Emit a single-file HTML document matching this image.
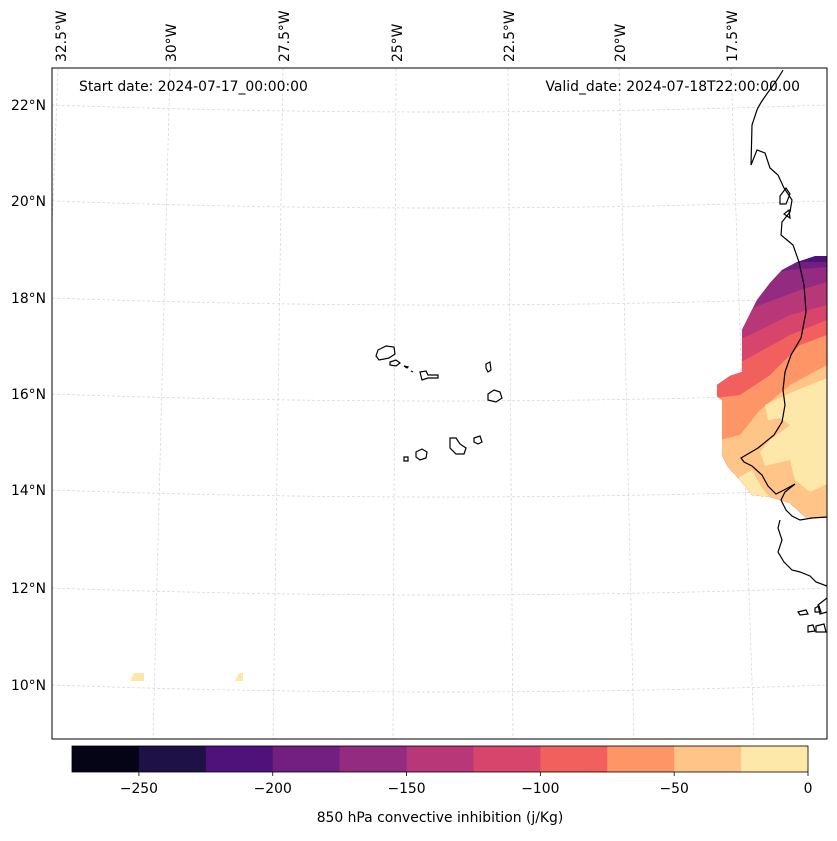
<!DOCTYPE html>
<html><head><meta charset="utf-8"><style>
body{margin:0;background:#fff;font-family:"Liberation Sans","DejaVu Sans",sans-serif}
svg text{font-family:"DejaVu Sans","Liberation Sans",sans-serif;fill:#000}
</style></head><body>
<svg id="chart" width="837" height="836" viewBox="0 0 837 836" xmlns="http://www.w3.org/2000/svg">
<defs><clipPath id="mapclip"><rect x="52" y="68" width="775" height="671"/></clipPath>
<clipPath id="fieldclip"><polygon points="827,256 815,256 797,262 782,270 770,283 757,300 742,330 742,372 730,376 717,385 717,396 722,400 722,455 728,467 740,480 752,495 770,497 790,503 805,517 827,518"/></clipPath></defs>
<rect x="52" y="68" width="775" height="671" fill="#fff"/>
<g id="grid" clip-path="url(#mapclip)"></g>
<g id="field" clip-path="url(#mapclip)"></g>
<g id="coast" clip-path="url(#mapclip)" fill="none" stroke="#000" stroke-width="1.2">
<path d="M783,70 C775,85 762,98 757,110 L752,125 751,165 757,150 765,153 770,168 778,175 784,188 792,200 790,212 782,222 781,235 793,245 799,262 804,285 806,312 801,338 791,355 785,372 783,390 785,405 782,422 774,435 758,448 741,458 744,462 752,466 762,475 768,486 776,494 784,490 795,484 785,492 781,500 786,510 792,516 800,520 812,518 827,517"/>
<path d="M780,520 L778,528 782,540 778,552 784,562 792,570 800,572 810,576 816,582 827,586"/>
<path d="M827,598 L818,605 820,614 827,612"/>
<path d="M798,612 l8,-2 2,4 -8,1z M815,608 l4,-2 2,6 -6,0z M808,626 l5,-1 2,6 -7,1z M816,626 l8,-2 2,8 -10,0z"/>
<path d="M780,196 l6,-8 4,6 -4,10 -6,0z M784,214 l5,-4 1,8z"/>
</g>
<g id="islands" fill="none" stroke="#000" stroke-width="1.2">
<path d="M378,350 l8,-4 8,1 1,7 -6,4 -10,2 -3,-4z"/>
<path d="M390,362 l6,-2 4,3 -4,3 -6,-1z"/>
<path d="M404,366 l4,1 -1,1z M411,371 l2,1"/>
<path d="M420,372 l6,-1 2,4 10,0 0,3 -10,0 -6,2z"/>
<path d="M486,364 l4,-2 1,8 -3,2 -2,-4z"/>
<path d="M488,394 l6,-4 6,2 2,6 -6,4 -8,-2z"/>
<path d="M450,438 l6,0 4,6 6,4 -2,6 -8,0 -6,-6z"/>
<path d="M474,438 l6,-2 2,6 -4,2 -4,-2z"/>
<path d="M416,452 l6,-3 5,3 -1,6 -6,2 -4,-3z"/>
<path d="M404,457 l4,0 0,4 -4,0z"/>
</g>
<rect x="52" y="68" width="775" height="671" fill="none" stroke="#000" stroke-width="1"/>
<g id="labels"></g>
<text x="79" y="91" font-size="13.9">Start date: 2024-07-17_00:00:00</text>
<text x="800" y="91" font-size="13.9" text-anchor="end">Valid_date: 2024-07-18T22:00:00.00</text>
<g id="cbar"></g>
<text x="440" y="822" font-size="13.9" text-anchor="middle">850 hPa convective inhibition (j/Kg)</text>
</svg>
<script>
const lonLabels=["32.5°W","30°W","27.5°W","25°W","22.5°W","20°W","17.5°W"];
const lonTopX=[58,170,283,396,508,619,731];
const lonBotX=[33,153,273,393,513,634,754];
const latLabels=["22°N","20°N","18°N","16°N","14°N","12°N","10°N"];
const latY=[105,201,298,394,490,588,685];
const cbLevels=[-275,-250,-225,-200,-175,-150,-125,-100,-75,-50,-25,0];
const cbColors=["#050416","#1d1147","#4f127b","#721f81","#932b80","#b73779","#d8456c","#f1605d","#fd9567","#fec488","#fde8aa"];
const cbTicks=[-250,-200,-150,-100,-50,0];
const NS="http://www.w3.org/2000/svg";
function mk(t,a,p){const e=document.createElementNS(NS,t);for(const k in a)e.setAttribute(k,a[k]);p.appendChild(e);return e;}
const grid=document.getElementById('grid'),labels=document.getElementById('labels');
lonLabels.forEach((l,i)=>{
 const ln=mk('line',{x1:lonTopX[i],y1:68,x2:lonBotX[i],y2:739,stroke:'#d4d4d4','stroke-width':0.7,'stroke-dasharray':'3,2'},grid);
 
 
 const cx=(i==0?62:lonTopX[i]+2);
 const t=mk('text',{x:0,y:0,'font-size':13.9,transform:`translate(${cx+4},62) rotate(-90)`},labels);
 t.textContent=l;
 
 
});
latLabels.forEach((l,i)=>{
 const y=latY[i];
 const p=mk('path',{d:`M52,${y} Q440,${y+14} 827,${y}`,fill:'none',stroke:'#d4d4d4','stroke-width':0.7,'stroke-dasharray':'3,2'},grid);
 
 
 const t=mk('text',{x:46,y:y+5,'font-size':13.9,'text-anchor':'end'},labels);
 t.textContent=l;
 
 
});
const field=document.getElementById('field');
const fg=mk('g',{'clip-path':'url(#fieldclip)'},field);
const bandIdx=[2,3,4,5,6,7,8,9];
const bandTops=[
 "700,200 827,200",
 "700,275 800,262 827,262",
 "700,285 790,270 827,267",
 "700,330 760,305 800,290 827,282",
 "700,355 750,335 790,315 827,305",
 "700,385 745,360 790,335 827,320",
 "700,400 740,395 770,375 800,345 827,335",
 "700,445 740,435 760,410 790,385 827,365"];
bandTops.forEach((pts,i)=>{
 const p=mk('polygon',{points:pts+" 827,560 700,560",fill:cbColors[bandIdx[i]]},fg);
 
 
});
const y1=mk('polygon',{points:"827,378 790,393 765,405 768,420 780,418 790,425 770,440 760,452 765,466 790,460 795,480 810,492 827,484",fill:cbColors[10]},fg);


const y2=mk('polygon',{points:"738,478 752,470 762,488 770,498 752,496",fill:cbColors[10]},fg);


[[130,673,144,681],[235,673,243,681]].forEach(r=>{
 const p=mk('polygon',{points:`${r[0]},${r[3]} ${r[0]+4},${r[1]} ${r[2]},${r[1]} ${r[2]},${r[3]}`,fill:cbColors[10]},field);
 
 
});
const cb=document.getElementById('cbar');
const cx0=72,cx1=808,cy0=746,cy1=772;
const X=v=>cx0+(v-cbLevels[0])/(cbLevels[cbLevels.length-1]-cbLevels[0])*(cx1-cx0);
cbColors.forEach((c,i)=>{
 const r=mk('rect',{x:X(cbLevels[i]),y:cy0,width:X(cbLevels[i+1])-X(cbLevels[i])+0.5,height:cy1-cy0,fill:c},cb);
 
 
});
const fr=mk('rect',{x:cx0,y:cy0,width:cx1-cx0,height:cy1-cy0,fill:'none',stroke:'#000','stroke-width':0.8},cb);


cbTicks.forEach(v=>{
 mk('line',{x1:X(v),y1:cy1,x2:X(v),y2:cy1+4,stroke:'#000','stroke-width':0.8},cb);
 const t=mk('text',{x:X(v),y:cy1+21,'font-size':13.9,'text-anchor':'middle'},cb);
 t.textContent=v<0?'\u2212'+Math.abs(v):String(v);
 
 
});
</script>
</body></html>
